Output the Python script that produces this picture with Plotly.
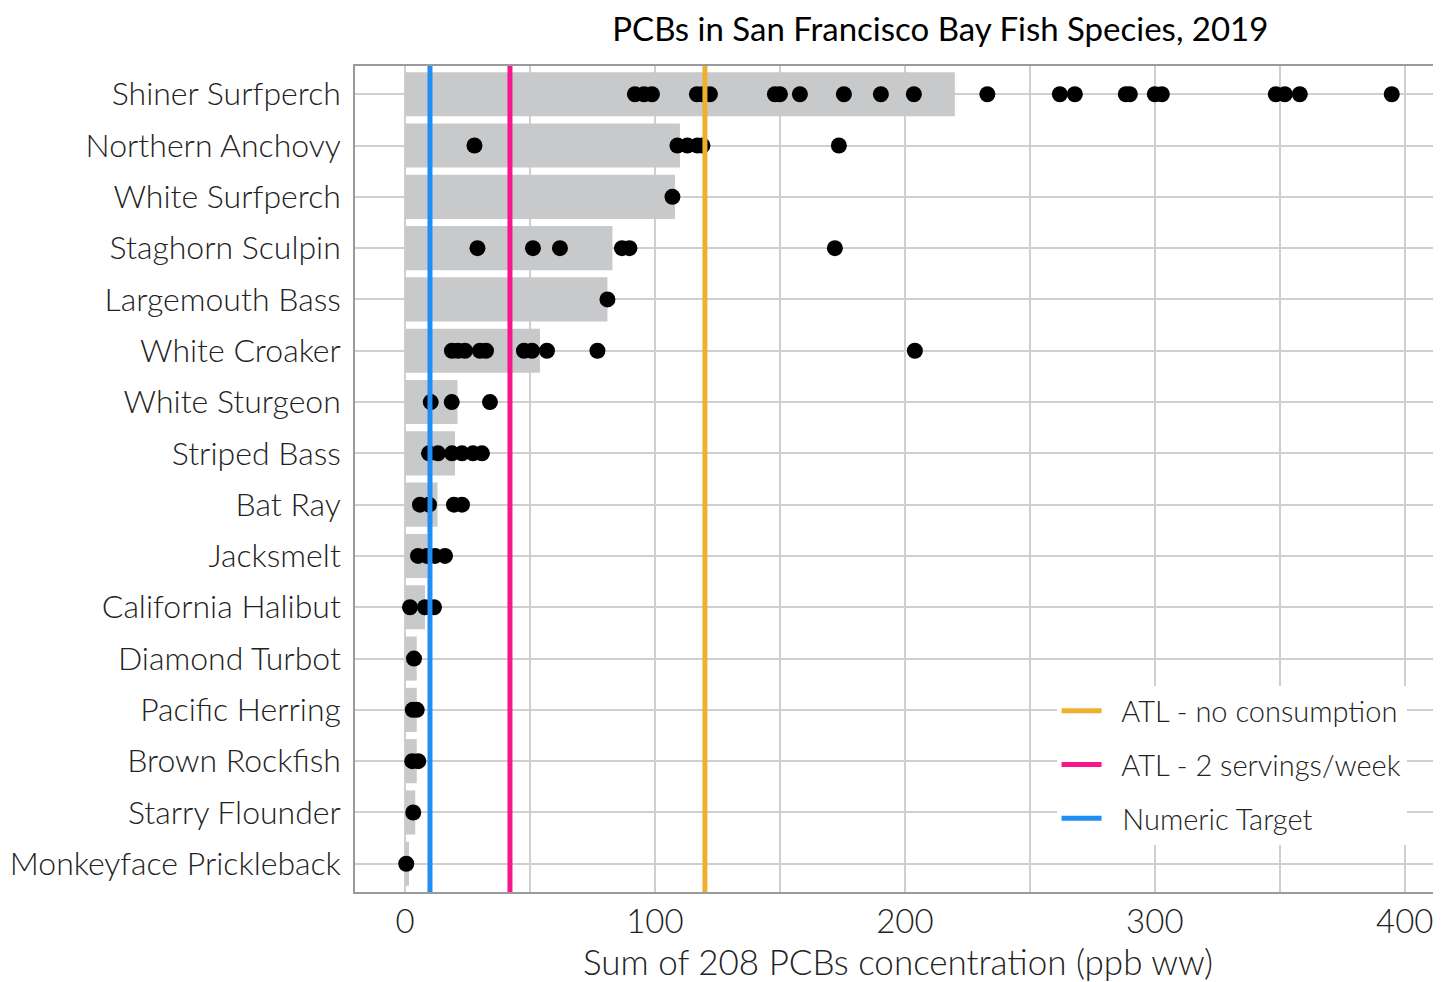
import plotly.graph_objects as go

# Species, top to bottom
species = [
    "Shiner Surfperch", "Northern Anchovy", "White Surfperch", "Staghorn Sculpin",
    "Largemouth Bass", "White Croaker", "White Sturgeon", "Striped Bass",
    "Bat Ray", "Jacksmelt", "California Halibut", "Diamond Turbot",
    "Pacific Herring", "Brown Rockfish", "Starry Flounder", "Monkeyface Prickleback",
]

# Bar (average) per species, ppb ww
bar_values = [220, 110, 108, 83, 81, 54, 21, 20, 13, 9, 8, 4.7, 4.7, 4.7, 4.1, 1.6]

# Individual samples per species, ppb ww
shiner = [92, 95.6, 98.8, 116.8, 119, 122, 148, 150, 158, 175.6, 190.4, 203.6,
          233, 262, 268, 288.4, 290, 300, 302.8, 348.4, 352, 358, 394.8]
anchovy = [27.8, 109, 113, 117, 119, 173.6]
white_surfperch = [107]
staghorn = [29, 51.2, 62, 86.8, 89.8, 172]
largemouth = [81]
croaker = [18.8, 21.2, 24, 30, 32.4, 47.6, 50.8, 56.8, 77, 204]
sturgeon = [10.3, 18.7, 34]
striped = [9.6, 13.2, 18.8, 22.8, 27.2, 30.8]
bat_ray = [6, 9.6, 19.6, 22.8]
jacksmelt = [5.2, 8.8, 12, 16]
halibut = [2, 8, 11.6]
turbot = [3.6]
herring = [3.1, 4.7]
rockfish = [2.9, 5.3]
flounder = [3.3]
monkeyface = [0.5]
samples = [shiner, anchovy, white_surfperch, staghorn, largemouth, croaker, sturgeon,
           striped, bat_ray, jacksmelt, halibut, turbot, herring, rockfish, flounder,
           monkeyface]

# Thresholds
threshold_names = ["ATL - no consumption", "ATL - 2 servings/week", "Numeric Target"]
threshold_values = [120, 42, 10]
threshold_colors = ["#EEB12F", "#F7168C", "#1F8EF5"]

FONT = "Lato"
TEXT = "#222222"
GRID = "#cfcfcf"
BORDER = "#9a9a9a"

fig = go.Figure()

fig.add_trace(go.Bar(
    x=bar_values, y=species, orientation="h", width=0.86,
    marker=dict(color="#c8c9ca", line=dict(width=0)),
    showlegend=False, hoverinfo="x+y",
))

dot_x, dot_y = [], []
for name, vals in zip(species, samples):
    dot_x += vals
    dot_y += [name] * len(vals)

fig.add_trace(go.Scatter(
    x=dot_x, y=dot_y, mode="markers",
    marker=dict(color="black", size=16, line=dict(width=0)),
    showlegend=False,
))

for i, (name, val, color) in enumerate(zip(threshold_names, threshold_values, threshold_colors)):
    fig.add_shape(
        type="line", xref="x", yref="paper", x0=val, x1=val, y0=0, y1=1,
        line=dict(color=color, width=5), layer="above",
        showlegend=True, name="\u00a0\u00a0" + name, legendgroup=f"g{i}",
    )

# page body adds ~8px offset, so the figure is 8px smaller than the window
fig.update_layout(
    width=1433, height=974,
    margin=dict(l=347, r=0, t=58, b=90),
    paper_bgcolor="white", plot_bgcolor="white",
    font=dict(family=FONT, color=TEXT, size=32, weight=300),
    title=dict(
        text="PCBs in San Francisco Bay Fish Species, 2019",
        x=0.539, xref="paper", xanchor="center",
        y=1 - 21 / 974, yref="container", yanchor="middle",
        font=dict(family=FONT, size=33, color="black", weight=400),
    ),
    legend=dict(
        x=0.646, y=0.250, xanchor="left", yanchor="top",
        bgcolor="white", borderwidth=0,
        font=dict(family=FONT, size=29, color=TEXT, weight=300),
        traceorder="grouped", tracegroupgap=13, itemwidth=40,
    ),
)

fig.update_xaxes(
    range=[-20, 414.5],
    tickvals=[0, 100, 200, 300, 400],
    showgrid=True, gridcolor=GRID, gridwidth=1.5,
    minor=dict(dtick=50, tick0=0, showgrid=True, gridcolor=GRID, gridwidth=1.5),
    zeroline=False,
    showline=True, mirror=True, linecolor=BORDER, linewidth=1.5,
    ticks="outside", ticklen=0, tickcolor="rgba(0,0,0,0)",
    tickfont=dict(size=33),
    title=dict(text="Sum of 208 PCBs concentration (ppb ww)", standoff=6,
               font=dict(size=35)),
)

fig.update_yaxes(
    categoryorder="array", categoryarray=species,
    range=[15.55, -0.55],
    showgrid=True, gridcolor=GRID, gridwidth=1.5,
    zeroline=False,
    showline=True, mirror=False, linecolor=BORDER, linewidth=1.5,
    ticks="outside", ticklen=6, tickcolor="rgba(0,0,0,0)",
    tickfont=dict(size=32),
)

fig.write_html("out.html")
